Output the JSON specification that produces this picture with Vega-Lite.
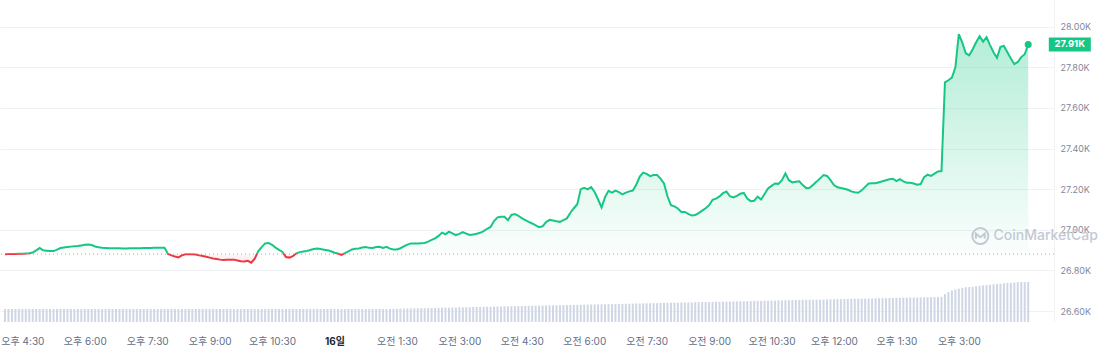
{
"$schema": "https://vega.github.io/schema/vega-lite/v6.json",
"width": 1054, "height": 322,
"autosize": {"type": "none"},
"padding": {"left": 0, "top": 0, "right": 44, "bottom": 30},
"background": "white",
"config": {"view": {"stroke": null}, "font": "Inter"},
"datasets": {"btc": [
{"t":"2023-10-15T16:05","p":26880,"v":8.1},{"t":"2023-10-15T16:10","p":26881,"v":8.1},{"t":"2023-10-15T16:15","p":26881,"v":8.1},{"t":"2023-10-15T16:20","p":26881,"v":8.1},{"t":"2023-10-15T16:25","p":26882,"v":8.1},{"t":"2023-10-15T16:30","p":26882,"v":8.1},{"t":"2023-10-15T16:35","p":26883,"v":8.1},{"t":"2023-10-15T16:40","p":26884,"v":8.1},{"t":"2023-10-15T16:45","p":26888,"v":8.1},{"t":"2023-10-15T16:50","p":26899,"v":8.1},{"t":"2023-10-15T16:55","p":26910,"v":8.1},
{"t":"2023-10-15T17:00","p":26899,"v":8.1},{"t":"2023-10-15T17:05","p":26897,"v":8.1},{"t":"2023-10-15T17:10","p":26895,"v":8.1},{"t":"2023-10-15T17:15","p":26895,"v":8.1},{"t":"2023-10-15T17:20","p":26902,"v":8.1},{"t":"2023-10-15T17:25","p":26910,"v":8.1},{"t":"2023-10-15T17:30","p":26913,"v":8.1},{"t":"2023-10-15T17:35","p":26915,"v":8.1},{"t":"2023-10-15T17:40","p":26917,"v":8.1},{"t":"2023-10-15T17:45","p":26919,"v":8.1},{"t":"2023-10-15T17:50","p":26920,"v":8.1},{"t":"2023-10-15T17:55","p":26923,"v":8.1},
{"t":"2023-10-15T18:00","p":26926,"v":8.1},{"t":"2023-10-15T18:05","p":26927,"v":8.1},{"t":"2023-10-15T18:10","p":26925,"v":8.1},{"t":"2023-10-15T18:15","p":26918,"v":8.1},{"t":"2023-10-15T18:20","p":26914,"v":8.1},{"t":"2023-10-15T18:25","p":26911,"v":8.1},{"t":"2023-10-15T18:30","p":26910,"v":8.1},{"t":"2023-10-15T18:35","p":26909,"v":8.1},{"t":"2023-10-15T18:40","p":26909,"v":8.1},{"t":"2023-10-15T18:45","p":26909,"v":8.1},{"t":"2023-10-15T18:50","p":26909,"v":8.1},{"t":"2023-10-15T18:55","p":26908,"v":8.1},
{"t":"2023-10-15T19:00","p":26908,"v":8.1},{"t":"2023-10-15T19:05","p":26909,"v":8.1},{"t":"2023-10-15T19:10","p":26909,"v":8.1},{"t":"2023-10-15T19:15","p":26909,"v":8.1},{"t":"2023-10-15T19:20","p":26909,"v":8.1},{"t":"2023-10-15T19:25","p":26910,"v":8.1},{"t":"2023-10-15T19:30","p":26910,"v":8.1},{"t":"2023-10-15T19:35","p":26910,"v":8.1},{"t":"2023-10-15T19:40","p":26911,"v":8.1},{"t":"2023-10-15T19:45","p":26911,"v":8.1},{"t":"2023-10-15T19:50","p":26911,"v":8.1},{"t":"2023-10-15T19:55","p":26911,"v":8.1},
{"t":"2023-10-15T20:00","p":26881,"v":8.1},{"t":"2023-10-15T20:05","p":26874,"v":8.1},{"t":"2023-10-15T20:10","p":26868,"v":8.1},{"t":"2023-10-15T20:15","p":26864,"v":8.1},{"t":"2023-10-15T20:20","p":26874,"v":8.1},{"t":"2023-10-15T20:25","p":26879,"v":8.1},{"t":"2023-10-15T20:30","p":26880,"v":8.1},{"t":"2023-10-15T20:35","p":26880,"v":8.1},{"t":"2023-10-15T20:40","p":26878,"v":8.1},{"t":"2023-10-15T20:45","p":26874,"v":8.1},{"t":"2023-10-15T20:50","p":26871,"v":8.1},{"t":"2023-10-15T20:55","p":26867,"v":8.1},
{"t":"2023-10-15T21:00","p":26863,"v":8.1},{"t":"2023-10-15T21:05","p":26859,"v":8.1},{"t":"2023-10-15T21:10","p":26856,"v":8.1},{"t":"2023-10-15T21:15","p":26853,"v":8.1},{"t":"2023-10-15T21:20","p":26851,"v":8.1},{"t":"2023-10-15T21:25","p":26852,"v":8.1},{"t":"2023-10-15T21:30","p":26853,"v":8.1},{"t":"2023-10-15T21:35","p":26853,"v":8.1},{"t":"2023-10-15T21:40","p":26849,"v":8.1},{"t":"2023-10-15T21:45","p":26845,"v":8.1},{"t":"2023-10-15T21:50","p":26844,"v":8.1},{"t":"2023-10-15T21:55","p":26847,"v":8.1},
{"t":"2023-10-15T22:00","p":26838,"v":8.1},{"t":"2023-10-15T22:05","p":26858,"v":8.1},{"t":"2023-10-15T22:10","p":26894,"v":8.1},{"t":"2023-10-15T22:15","p":26915,"v":8.1},{"t":"2023-10-15T22:20","p":26933,"v":8.1},{"t":"2023-10-15T22:25","p":26935,"v":8.1},{"t":"2023-10-15T22:30","p":26926,"v":8.1},{"t":"2023-10-15T22:35","p":26912,"v":8.1},{"t":"2023-10-15T22:40","p":26901,"v":8.1},{"t":"2023-10-15T22:45","p":26891,"v":8.1},{"t":"2023-10-15T22:50","p":26866,"v":8.1},{"t":"2023-10-15T22:55","p":26863,"v":8.1},
{"t":"2023-10-15T23:00","p":26870,"v":8.1},{"t":"2023-10-15T23:05","p":26884,"v":8.1},{"t":"2023-10-15T23:10","p":26890,"v":8.1},{"t":"2023-10-15T23:15","p":26893,"v":8.1},{"t":"2023-10-15T23:20","p":26896,"v":8.1},{"t":"2023-10-15T23:25","p":26900,"v":8.1},{"t":"2023-10-15T23:30","p":26905,"v":8.1},{"t":"2023-10-15T23:35","p":26908,"v":8.1},{"t":"2023-10-15T23:40","p":26905,"v":8.1},{"t":"2023-10-15T23:45","p":26902,"v":8.1},{"t":"2023-10-15T23:50","p":26899,"v":8.1},{"t":"2023-10-15T23:55","p":26894,"v":8.1},
{"t":"2023-10-16T00:00","p":26887,"v":8.1},{"t":"2023-10-16T00:05","p":26883,"v":8.1},{"t":"2023-10-16T00:10","p":26876,"v":8.1},{"t":"2023-10-16T00:15","p":26885,"v":8.1},{"t":"2023-10-16T00:20","p":26894,"v":8.1},{"t":"2023-10-16T00:25","p":26903,"v":8.1},{"t":"2023-10-16T00:30","p":26906,"v":8.1},{"t":"2023-10-16T00:35","p":26908,"v":8.1},{"t":"2023-10-16T00:40","p":26913,"v":8.1},{"t":"2023-10-16T00:45","p":26915,"v":8.1},{"t":"2023-10-16T00:50","p":26911,"v":8.1},{"t":"2023-10-16T00:55","p":26910,"v":8.1},
{"t":"2023-10-16T01:00","p":26915,"v":8.1},{"t":"2023-10-16T01:05","p":26916,"v":8.1},{"t":"2023-10-16T01:10","p":26911,"v":8.1},{"t":"2023-10-16T01:15","p":26916,"v":8.1},{"t":"2023-10-16T01:20","p":26907,"v":8.1},{"t":"2023-10-16T01:25","p":26903,"v":8.2},{"t":"2023-10-16T01:30","p":26903,"v":8.2},{"t":"2023-10-16T01:35","p":26909,"v":8.3},{"t":"2023-10-16T01:40","p":26918,"v":8.3},{"t":"2023-10-16T01:45","p":26927,"v":8.4},{"t":"2023-10-16T01:50","p":26933,"v":8.4},{"t":"2023-10-16T01:55","p":26933,"v":8.5},
{"t":"2023-10-16T02:00","p":26933,"v":8.5},{"t":"2023-10-16T02:05","p":26934,"v":8.6},{"t":"2023-10-16T02:10","p":26935,"v":8.6},{"t":"2023-10-16T02:15","p":26942,"v":8.7},{"t":"2023-10-16T02:20","p":26950,"v":8.7},{"t":"2023-10-16T02:25","p":26958,"v":8.8},{"t":"2023-10-16T02:30","p":26970,"v":8.8},{"t":"2023-10-16T02:35","p":26986,"v":8.9},{"t":"2023-10-16T02:40","p":26978,"v":8.9},{"t":"2023-10-16T02:45","p":26991,"v":8.9},{"t":"2023-10-16T02:50","p":26982,"v":9.0},{"t":"2023-10-16T02:55","p":26974,"v":9.0},
{"t":"2023-10-16T03:00","p":26980,"v":9.1},{"t":"2023-10-16T03:05","p":26988,"v":9.1},{"t":"2023-10-16T03:10","p":26981,"v":9.2},{"t":"2023-10-16T03:15","p":26974,"v":9.2},{"t":"2023-10-16T03:20","p":26977,"v":9.3},{"t":"2023-10-16T03:25","p":26980,"v":9.3},{"t":"2023-10-16T03:30","p":26985,"v":9.4},{"t":"2023-10-16T03:35","p":26993,"v":9.4},{"t":"2023-10-16T03:40","p":27005,"v":9.5},{"t":"2023-10-16T03:45","p":27014,"v":9.5},{"t":"2023-10-16T03:50","p":27043,"v":9.6},{"t":"2023-10-16T03:55","p":27061,"v":9.6},
{"t":"2023-10-16T04:00","p":27064,"v":9.6},{"t":"2023-10-16T04:05","p":27064,"v":9.7},{"t":"2023-10-16T04:10","p":27047,"v":9.7},{"t":"2023-10-16T04:15","p":27073,"v":9.8},{"t":"2023-10-16T04:20","p":27077,"v":9.8},{"t":"2023-10-16T04:25","p":27069,"v":9.9},{"t":"2023-10-16T04:30","p":27057,"v":9.9},{"t":"2023-10-16T04:35","p":27048,"v":10.0},{"t":"2023-10-16T04:40","p":27039,"v":10.0},{"t":"2023-10-16T04:45","p":27031,"v":10.1},{"t":"2023-10-16T04:50","p":27022,"v":10.1},{"t":"2023-10-16T04:55","p":27013,"v":10.2},
{"t":"2023-10-16T05:00","p":27017,"v":10.2},{"t":"2023-10-16T05:05","p":27038,"v":10.3},{"t":"2023-10-16T05:10","p":27049,"v":10.3},{"t":"2023-10-16T05:15","p":27046,"v":10.3},{"t":"2023-10-16T05:20","p":27042,"v":10.4},{"t":"2023-10-16T05:25","p":27039,"v":10.4},{"t":"2023-10-16T05:30","p":27047,"v":10.5},{"t":"2023-10-16T05:35","p":27056,"v":10.5},{"t":"2023-10-16T05:40","p":27084,"v":10.6},{"t":"2023-10-16T05:45","p":27106,"v":10.6},{"t":"2023-10-16T05:50","p":27126,"v":10.7},{"t":"2023-10-16T05:55","p":27200,"v":10.7},
{"t":"2023-10-16T06:00","p":27206,"v":10.8},{"t":"2023-10-16T06:05","p":27199,"v":10.8},{"t":"2023-10-16T06:10","p":27210,"v":10.9},{"t":"2023-10-16T06:15","p":27186,"v":10.9},{"t":"2023-10-16T06:20","p":27149,"v":11.0},{"t":"2023-10-16T06:25","p":27110,"v":11.0},{"t":"2023-10-16T06:30","p":27161,"v":11.0},{"t":"2023-10-16T06:35","p":27192,"v":11.1},{"t":"2023-10-16T06:40","p":27183,"v":11.1},{"t":"2023-10-16T06:45","p":27193,"v":11.2},{"t":"2023-10-16T06:50","p":27185,"v":11.2},{"t":"2023-10-16T06:55","p":27174,"v":11.3},
{"t":"2023-10-16T07:00","p":27183,"v":11.3},{"t":"2023-10-16T07:05","p":27189,"v":11.4},{"t":"2023-10-16T07:10","p":27193,"v":11.4},{"t":"2023-10-16T07:15","p":27221,"v":11.5},{"t":"2023-10-16T07:20","p":27262,"v":11.5},{"t":"2023-10-16T07:25","p":27281,"v":11.6},{"t":"2023-10-16T07:30","p":27275,"v":11.6},{"t":"2023-10-16T07:35","p":27264,"v":11.7},{"t":"2023-10-16T07:40","p":27269,"v":11.7},{"t":"2023-10-16T07:45","p":27269,"v":11.7},{"t":"2023-10-16T07:50","p":27252,"v":11.8},{"t":"2023-10-16T07:55","p":27228,"v":11.8},
{"t":"2023-10-16T08:00","p":27165,"v":11.9},{"t":"2023-10-16T08:05","p":27121,"v":11.9},{"t":"2023-10-16T08:10","p":27115,"v":12.0},{"t":"2023-10-16T08:15","p":27105,"v":12.0},{"t":"2023-10-16T08:20","p":27088,"v":12.1},{"t":"2023-10-16T08:25","p":27088,"v":12.1},{"t":"2023-10-16T08:30","p":27078,"v":12.2},{"t":"2023-10-16T08:35","p":27070,"v":12.2},{"t":"2023-10-16T08:40","p":27073,"v":12.3},{"t":"2023-10-16T08:45","p":27082,"v":12.3},{"t":"2023-10-16T08:50","p":27094,"v":12.4},{"t":"2023-10-16T08:55","p":27106,"v":12.4},
{"t":"2023-10-16T09:00","p":27121,"v":12.4},{"t":"2023-10-16T09:05","p":27147,"v":12.5},{"t":"2023-10-16T09:10","p":27153,"v":12.5},{"t":"2023-10-16T09:15","p":27164,"v":12.6},{"t":"2023-10-16T09:20","p":27180,"v":12.6},{"t":"2023-10-16T09:25","p":27188,"v":12.7},{"t":"2023-10-16T09:30","p":27165,"v":12.7},{"t":"2023-10-16T09:35","p":27159,"v":12.8},{"t":"2023-10-16T09:40","p":27167,"v":12.8},{"t":"2023-10-16T09:45","p":27177,"v":12.9},{"t":"2023-10-16T09:50","p":27181,"v":12.9},{"t":"2023-10-16T09:55","p":27154,"v":13.0},
{"t":"2023-10-16T10:00","p":27141,"v":13.0},{"t":"2023-10-16T10:05","p":27143,"v":13.1},{"t":"2023-10-16T10:10","p":27163,"v":13.1},{"t":"2023-10-16T10:15","p":27149,"v":13.1},{"t":"2023-10-16T10:20","p":27176,"v":13.2},{"t":"2023-10-16T10:25","p":27203,"v":13.2},{"t":"2023-10-16T10:30","p":27216,"v":13.3},{"t":"2023-10-16T10:35","p":27228,"v":13.3},{"t":"2023-10-16T10:40","p":27226,"v":13.4},{"t":"2023-10-16T10:45","p":27244,"v":13.4},{"t":"2023-10-16T10:50","p":27277,"v":13.5},{"t":"2023-10-16T10:55","p":27244,"v":13.5},
{"t":"2023-10-16T11:00","p":27233,"v":13.6},{"t":"2023-10-16T11:05","p":27236,"v":13.6},{"t":"2023-10-16T11:10","p":27239,"v":13.7},{"t":"2023-10-16T11:15","p":27220,"v":13.7},{"t":"2023-10-16T11:20","p":27205,"v":13.8},{"t":"2023-10-16T11:25","p":27207,"v":13.8},{"t":"2023-10-16T11:30","p":27222,"v":13.8},{"t":"2023-10-16T11:35","p":27237,"v":13.9},{"t":"2023-10-16T11:40","p":27253,"v":13.9},{"t":"2023-10-16T11:45","p":27269,"v":14.0},{"t":"2023-10-16T11:50","p":27265,"v":14.0},{"t":"2023-10-16T11:55","p":27244,"v":14.1},
{"t":"2023-10-16T12:00","p":27220,"v":14.1},{"t":"2023-10-16T12:05","p":27209,"v":14.2},{"t":"2023-10-16T12:10","p":27206,"v":14.2},{"t":"2023-10-16T12:15","p":27202,"v":14.3},{"t":"2023-10-16T12:20","p":27197,"v":14.3},{"t":"2023-10-16T12:25","p":27189,"v":14.4},{"t":"2023-10-16T12:30","p":27185,"v":14.4},{"t":"2023-10-16T12:35","p":27182,"v":14.5},{"t":"2023-10-16T12:40","p":27194,"v":14.5},{"t":"2023-10-16T12:45","p":27211,"v":14.5},{"t":"2023-10-16T12:50","p":27228,"v":14.6},{"t":"2023-10-16T12:55","p":27229,"v":14.6},
{"t":"2023-10-16T13:00","p":27229,"v":14.7},{"t":"2023-10-16T13:05","p":27234,"v":14.7},{"t":"2023-10-16T13:10","p":27239,"v":14.8},{"t":"2023-10-16T13:15","p":27244,"v":14.8},{"t":"2023-10-16T13:20","p":27249,"v":14.9},{"t":"2023-10-16T13:25","p":27251,"v":14.9},{"t":"2023-10-16T13:30","p":27240,"v":15.0},{"t":"2023-10-16T13:35","p":27249,"v":15.0},{"t":"2023-10-16T13:40","p":27238,"v":15.1},{"t":"2023-10-16T13:45","p":27232,"v":15.1},{"t":"2023-10-16T13:50","p":27231,"v":15.2},{"t":"2023-10-16T13:55","p":27228,"v":15.2},
{"t":"2023-10-16T14:00","p":27222,"v":15.2},{"t":"2023-10-16T14:05","p":27225,"v":15.3},{"t":"2023-10-16T14:10","p":27259,"v":15.3},{"t":"2023-10-16T14:15","p":27271,"v":15.4},{"t":"2023-10-16T14:20","p":27265,"v":15.4},{"t":"2023-10-16T14:25","p":27276,"v":15.5},{"t":"2023-10-16T14:30","p":27287,"v":15.5},{"t":"2023-10-16T14:35","p":27289,"v":15.6},{"t":"2023-10-16T14:40","p":27726,"v":17.4},{"t":"2023-10-16T14:45","p":27736,"v":18.6},{"t":"2023-10-16T14:50","p":27749,"v":19.6},{"t":"2023-10-16T14:55","p":27798,"v":20.2},
{"t":"2023-10-16T15:00","p":27963,"v":20.7},{"t":"2023-10-16T15:05","p":27921,"v":21.2},{"t":"2023-10-16T15:10","p":27869,"v":21.6},{"t":"2023-10-16T15:15","p":27859,"v":21.7},{"t":"2023-10-16T15:20","p":27889,"v":21.8},{"t":"2023-10-16T15:25","p":27923,"v":22.2},{"t":"2023-10-16T15:30","p":27953,"v":22.5},{"t":"2023-10-16T15:35","p":27926,"v":22.8},{"t":"2023-10-16T15:40","p":27948,"v":23.0},{"t":"2023-10-16T15:45","p":27909,"v":23.2},{"t":"2023-10-16T15:50","p":27874,"v":23.4},{"t":"2023-10-16T15:55","p":27846,"v":23.6},
{"t":"2023-10-16T16:00","p":27900,"v":23.8},{"t":"2023-10-16T16:05","p":27905,"v":24.0},{"t":"2023-10-16T16:10","p":27874,"v":24.2},{"t":"2023-10-16T16:15","p":27843,"v":24.3},{"t":"2023-10-16T16:20","p":27815,"v":24.5},{"t":"2023-10-16T16:25","p":27826,"v":24.7},{"t":"2023-10-16T16:30","p":27850,"v":24.8},{"t":"2023-10-16T16:35","p":27864,"v":24.8},{"t":"2023-10-16T16:40","p":27912,"v":24.9}
]},
"layer": [
{
"data": {"name": "btc"},
"mark": {"type": "bar", "size": 2, "color": "#cfd6e4"},
"encoding": {
"x": {"field": "t", "type": "temporal", "title": null,
"scale": {"domain": [{"year":2023,"month":10,"date":15,"hours":16,"minutes":5},{"year":2023,"month":10,"date":16,"hours":17,"minutes":10}]},
"axis": {
"values": [
{"year":2023,"month":10,"date":15,"hours":16,"minutes":30},
{"year":2023,"month":10,"date":15,"hours":18,"minutes":0},
{"year":2023,"month":10,"date":15,"hours":19,"minutes":30},
{"year":2023,"month":10,"date":15,"hours":21,"minutes":0},
{"year":2023,"month":10,"date":15,"hours":22,"minutes":30},
{"year":2023,"month":10,"date":16,"hours":0,"minutes":0},
{"year":2023,"month":10,"date":16,"hours":1,"minutes":30},
{"year":2023,"month":10,"date":16,"hours":3,"minutes":0},
{"year":2023,"month":10,"date":16,"hours":4,"minutes":30},
{"year":2023,"month":10,"date":16,"hours":6,"minutes":0},
{"year":2023,"month":10,"date":16,"hours":7,"minutes":30},
{"year":2023,"month":10,"date":16,"hours":9,"minutes":0},
{"year":2023,"month":10,"date":16,"hours":10,"minutes":30},
{"year":2023,"month":10,"date":16,"hours":12,"minutes":0},
{"year":2023,"month":10,"date":16,"hours":13,"minutes":30},
{"year":2023,"month":10,"date":16,"hours":15,"minutes":0}],
"labelExpr": "hours(datum.value) == 0 && minutes(datum.value) == 0 ? date(datum.value) + '일' : (hours(datum.value) < 12 ? '오전 ' : '오후 ') + (hours(datum.value) % 12 == 0 ? 12 : hours(datum.value) % 12) + ':' + timeFormat(datum.value, '%M')",
"title": null, "grid": false, "ticks": false, "domain": false,
"labelFont": "Inter, 'Noto Sans CJK KR', sans-serif", "labelFontSize": 10,
"labelColor": {"condition": {"test": "hours(datum.value) == 0 && minutes(datum.value) == 0", "value": "#222531"}, "value": "#616e85"},
"labelFontWeight": {"condition": {"test": "hours(datum.value) == 0 && minutes(datum.value) == 0", "value": "bold"}, "value": "normal"},
"labelPadding": 14, "labelOverlap": false, "labelFlush": false, "labelBound": false
}},
"y": {"field": "v", "type": "quantitative", "scale": {"domain": [0, 200], "nice": false}, "axis": null}
}
},
{
"layer": [
{
"data": {"name": "btc"},
"mark": {"type": "area", "fill": {"gradient": "linear", "x1": 0, "y1": 0, "x2": 0, "y2": 1, "stops": [
{"offset": 0, "color": "rgba(22,199,132,0.32)"},
{"offset": 0.9627, "color": "rgba(22,199,132,0.02)"},
{"offset": 0.9627, "color": "rgba(234,57,67,0.04)"},
{"offset": 1, "color": "rgba(234,57,67,0.12)"}]}},
"encoding": {
"x": {"field": "t", "type": "temporal", "title": null},
"y": {"field": "p", "type": "quantitative", "title": null,
"scale": {"domain": [26546, 28131], "zero": false, "nice": false},
"axis": {"orient": "right", "values": [26600, 26800, 27000, 27200, 27400, 27600, 27800, 28000],
"labelExpr": "format(datum.value / 1000, '.2f') + 'K'",
"title": null, "grid": true, "gridColor": "#eff2f5", "ticks": false, "domain": true, "domainColor": "#eff2f5",
"labelFont": "Inter", "labelFontSize": 9, "labelColor": "#808a9d", "labelPadding": 6}},
"y2": {"datum": 26880}
}
},
{
"data": {"values": [{}]},
"mark": {"type": "rule", "color": "#a6b0c3", "strokeDash": [1, 3], "strokeWidth": 1},
"encoding": {"y": {"datum": 26880}}
},
{
"data": {"name": "btc"},
"mark": {"type": "line", "strokeWidth": 2, "stroke": {"gradient": "linear", "x1": 0, "y1": 0, "x2": 0, "y2": 1, "stops": [
{"offset": 0, "color": "#16c784"},
{"offset": 0.9627, "color": "#16c784"},
{"offset": 0.9627, "color": "#ea3943"},
{"offset": 1, "color": "#ea3943"}]}},
"encoding": {
"x": {"field": "t", "type": "temporal", "title": null},
"y": {"field": "p", "type": "quantitative", "title": null}
}
},
{
"data": {"name": "btc"},
"transform": [{"window": [{"op": "row_number", "as": "r"}], "sort": [{"field": "t", "order": "descending"}]}, {"filter": "datum.r == 1"}],
"mark": {"type": "point", "filled": true, "size": 49, "color": "#16c784", "opacity": 1},
"encoding": {
"x": {"field": "t", "type": "temporal", "title": null},
"y": {"field": "p", "type": "quantitative", "title": null}
}
},
{
"data": {"name": "btc"},
"transform": [{"window": [{"op": "row_number", "as": "r"}], "sort": [{"field": "t", "order": "descending"}]}, {"filter": "datum.r == 1"}],
"mark": {"type": "point", "filled": true, "size": 196, "shape": "M-3,-1H3V1H-3Z", "color": "#16c784", "opacity": 1},
"encoding": {
"x": {"datum": {"year":2023,"month":10,"date":16,"hours":17,"minutes":40}, "type": "temporal"},
"y": {"field": "p", "type": "quantitative", "title": null}
}
},
{
"data": {"name": "btc"},
"transform": [{"window": [{"op": "row_number", "as": "r"}], "sort": [{"field": "t", "order": "descending"}]}, {"filter": "datum.r == 1"}, {"calculate": "format(datum.p / 1000, '.2f') + 'K'", "as": "label"}],
"mark": {"type": "text", "color": "white", "fontSize": 9.5, "fontWeight": "bold", "font": "Inter", "align": "center", "baseline": "middle"},
"encoding": {
"x": {"datum": {"year":2023,"month":10,"date":16,"hours":17,"minutes":40}, "type": "temporal"},
"y": {"field": "p", "type": "quantitative", "title": null},
"text": {"field": "label"}
}
},
{
"data": {"values": [{"name": "CoinMarketCap"}]},
"mark": {"type": "text", "color": "#c3c9d4", "fontSize": 14, "fontWeight": 500, "font": "Inter", "align": "left", "baseline": "middle"},
"encoding": {
"x": {"datum": {"year":2023,"month":10,"date":16,"hours":15,"minutes":50}, "type": "temporal"},
"y": {"datum": 26969},
"text": {"field": "name"}
}
},
{
"data": {"values": [{}]},
"mark": {"type": "point", "shape": "circle", "size": 256, "filled": false, "stroke": "#c3c9d4", "strokeWidth": 2, "opacity": 1},
"encoding": {
"x": {"datum": {"year":2023,"month":10,"date":16,"hours":15,"minutes":31}, "type": "temporal"},
"y": {"datum": 26969}
}
},
{
"data": {"values": [{}]},
"mark": {"type": "point", "shape": "M-0.55,0.35L-0.55,-0.3L0,0.15L0.55,-0.3L0.55,0.35", "size": 256, "filled": false, "stroke": "#c3c9d4", "strokeWidth": 2, "opacity": 1},
"encoding": {
"x": {"datum": {"year":2023,"month":10,"date":16,"hours":15,"minutes":31}, "type": "temporal"},
"y": {"datum": 26969}
}
}
]
}
],
"resolve": {"scale": {"y": "independent"}}
}
